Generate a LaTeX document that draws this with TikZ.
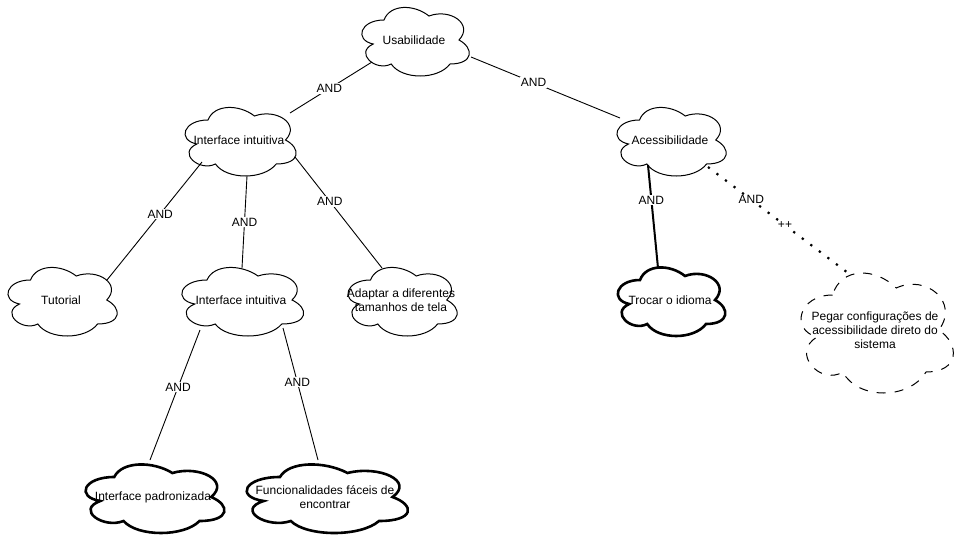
\documentclass[tikz,border=0pt]{standalone}
\usepackage{fontspec}
\setmainfont{Liberation Sans}
\usetikzlibrary{shapes.geometric,calc}
\tikzset{
  cloudbox/.style={ellipse, draw=none, inner sep=0pt, align=center, font=\fontsize{12}{14}\selectfont},
  cloudline/.style={draw=black, fill=white, line width=1pt},
  boldcloud/.style={draw=black, fill=white, line width=2.6pt},
  dashcloud/.style={draw=black, fill=white, line width=1pt, dash pattern=on 9pt off 9pt},
  link/.style={draw=black, line width=0.9pt},
  boldlink/.style={draw=black, line width=2pt},
  dotlink/.style={draw=black, line width=2.2pt, dash pattern=on 2.2pt off 8.5pt},
  lbl/.style={fill=white, inner sep=1pt, font=\fontsize{12}{14}\selectfont},
}
% #1 name, #2 cx, #3 cy, #4 w, #5 h, #6 cloud style, #7 text
\newcommand\mycloud[7]{%
  \begin{scope}[shift={(#2-#4/2,#3-#5/2)}, x=#4pt, y=-#5pt]
    \path[#6] (0.25,0.25) .. controls (0.05,0.25) and (0,0.5) .. (0.16,0.55)
      .. controls (0,0.66) and (0.18,0.9) .. (0.31,0.8)
      .. controls (0.4,1) and (0.7,1) .. (0.8,0.8)
      .. controls (1,0.8) and (1,0.6) .. (0.875,0.5)
      .. controls (1,0.3) and (0.8,0.1) .. (0.625,0.2)
      .. controls (0.5,0.05) and (0.3,0.05) .. (0.25,0.25) -- cycle;
  \end{scope}
  \node[cloudbox, minimum width=#4pt, minimum height=#5pt] (#1) at (#2,#3) {#7};
}
\begin{document}
\begin{tikzpicture}[x=1pt, y=-1pt]
\useasboundingbox[fill=white] (0,0) rectangle (962,538);

\mycloud{usab}{414}{40}{120}{80}{cloudline}{Usabilidade}
\mycloud{int1}{239}{140}{124}{80}{cloudline}{Interface intuitiva}
\mycloud{acc}{670}{140}{122}{80}{cloudline}{Acessibilidade}
\mycloud{tut}{61}{300}{122}{80}{cloudline}{Tutorial}
\mycloud{int2}{241}{300}{136}{80}{cloudline}{Interface intuitiva}
\mycloud{adap}{401}{300}{122}{80}{cloudline}{Adaptar a diferentes\\tamanhos de tela}
\mycloud{troc}{670}{300}{120}{80}{boldcloud}{Trocar o idioma}
\mycloud{pegar}{875}{330}{170}{140}{dashcloud}{Pegar configurações de\\acessibilidade direto do\\sistema}
\mycloud{padr}{153}{497}{155}{80}{boldcloud}{Interface padronizada}
\mycloud{func}{325}{497}{180}{80}{boldcloud}{Funcionalidades fáceis de\\encontrar}

\draw[link] ($(usab)+(-42,22)$) -- node[lbl, pos=0.52]{AND} ($(int1)+(51,-27)$);
\draw[link] ($(usab)+(57,17)$) -- node[lbl, pos=0.42]{AND} ($(acc)+(-50,-22)$);
\draw[link] ($(int1)+(-37,22)$) -- node[lbl, pos=0.44]{AND} ($(tut)+(46,-20)$);
\draw[link] ($(int1)+(8,36)$) -- node[lbl, pos=0.5]{AND} ($(int2)+(1,-32)$);
\draw[link] ($(int1)+(56,17)$) -- node[lbl, pos=0.40]{AND} ($(adap)+(-19,-32)$);
\draw[boldlink] ($(acc)+(-22,25)$) -- node[lbl, pos=0.34]{AND} ($(troc)+(-12,-32)$);
\draw[dotlink] ($(acc)+(38,27)$) -- ($(pegar)+(-27,-57)$);
\path ($(acc)+(38,27)$) -- node[lbl, pos=0.31]{AND} node[lbl, pos=0.55]{++} ($(pegar)+(-27,-57)$);
\draw[link] ($(int2)+(-41,30)$) -- node[lbl, pos=0.44]{AND} ($(padr)+(-3,-37)$);
\draw[link] ($(int2)+(42,28)$) -- node[lbl, pos=0.41]{AND} ($(func)+(-7,-37)$);
\end{tikzpicture}
\end{document}
